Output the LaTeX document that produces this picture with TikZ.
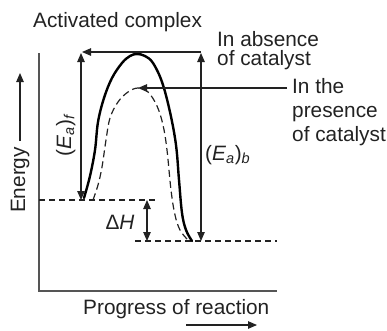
\documentclass[tikz,border=0pt]{standalone}
\usepackage{fontspec}
\setmainfont{Liberation Sans}
\usetikzlibrary{arrows.meta}
\definecolor{axisgray}{HTML}{555555}
\definecolor{ink}{HTML}{222222}
\begin{document}
\begin{tikzpicture}[x=1pt,y=-1pt,
  every node/.style={font=\fontsize{20.8}{24}\selectfont, inner sep=0pt, text=ink},
  axisline/.style={draw=axisgray, line width=1.3pt},
  arr/.style={draw=ink, line width=1.1pt, >={Triangle[length=9pt,width=7.5pt]}},
  dashline/.style={draw=ink, line width=1.1pt, dash pattern=on 6pt off 4pt},
  solidcurve/.style={draw=black, line width=2.4pt, line cap=round},
  dashcurve/.style={draw=ink, line width=1.2pt, dash pattern=on 7pt off 4pt}]
\useasboundingbox (0,0) rectangle (387,330);

% axes
\coordinate (O) at (39,291);
\coordinate (Ytop) at (39,53);
\coordinate (Xend) at (277,291);
\draw[axisline] (Ytop) -- (O) -- (Xend);

% energy levels
\coordinate (Rl) at (39,200); \coordinate (Rr) at (158,200);
\coordinate (Pl) at (135,241); \coordinate (Pr) at (277,241);
\draw[dashline] (Rl) -- (Rr);
\draw[dashline] (Pl) -- (Pr);

% curves
\draw[solidcurve] plot[smooth, tension=0.6] coordinates {
  (84,198) (90,176) (95,150) (98,122) (104,98) (112,78) (122,63) (130,56) (137,54)
  (145,56) (153,63) (162,82) (170,112) (176,145) (179,180) (182,213) (186,230) (192,241)};
\draw[dashcurve] plot[smooth, tension=0.6] coordinates {
  (93,200) (98,185) (102,167) (106,140) (110,118) (118,102) (128,92) (138,88)
  (148,92) (157,106) (163,125) (167,150) (171,190) (175,215) (180,230) (187,239)};

% activation energy arrows
\coordinate (EfT) at (81,53); \coordinate (EfB) at (81,200);
\draw[arr,<->] (EfT) -- (EfB);
\coordinate (EbT) at (201,53); \coordinate (EbB) at (201,241);
\draw[arr,<->] (EbT) -- (EbB);
\coordinate (TopR) at (201,52); \coordinate (TopL) at (82,52);
\draw[arr,->] (TopR) -- (TopL);
\coordinate (PresR) at (287,88); \coordinate (PresL) at (138,88);
\draw[arr,->] (PresR) -- (PresL);

% Delta H
\coordinate (HT) at (147,200); \coordinate (HB) at (147,241);
\draw[arr,<->] (HT) -- (HB);
\node (dH) at (120,222) {Δ\textit{H}};

% labels
\node[anchor=base west] (act) at (33,27) {Activated complex};
\node[anchor=base west] (abs1) at (217,46) {In absence};
\node[anchor=base west] (abs2) at (217,65) {of catalyst};
\node[anchor=base west] (pre1) at (292,93) {In the};
\node[anchor=base west] (pre2) at (292,117) {presence};
\node[anchor=base west] (pre3) at (292,141) {of catalyst};
\node[anchor=base west] (eab) at (205,160) {(\textit{E}\textsubscript{\textit{a}})\textsubscript{\textit{b}}};
\node[anchor=base, rotate=90] (eaf) at (71,135) {(\textit{E}\textsubscript{\textit{a}})\textsubscript{\textit{f}}};

% axis titles
\node[anchor=base, rotate=90] (energy) at (25,180) {Energy};
\coordinate (EnA) at (20,141); \coordinate (EnB) at (20,73);
\draw[arr,->] (EnA) -- (EnB);
\node[anchor=base west] (prog) at (83,314) {Progress of reaction};
\coordinate (PgA) at (186,325); \coordinate (PgB) at (257,325);
\draw[arr,->] (PgA) -- (PgB);
\end{tikzpicture}
\end{document}
